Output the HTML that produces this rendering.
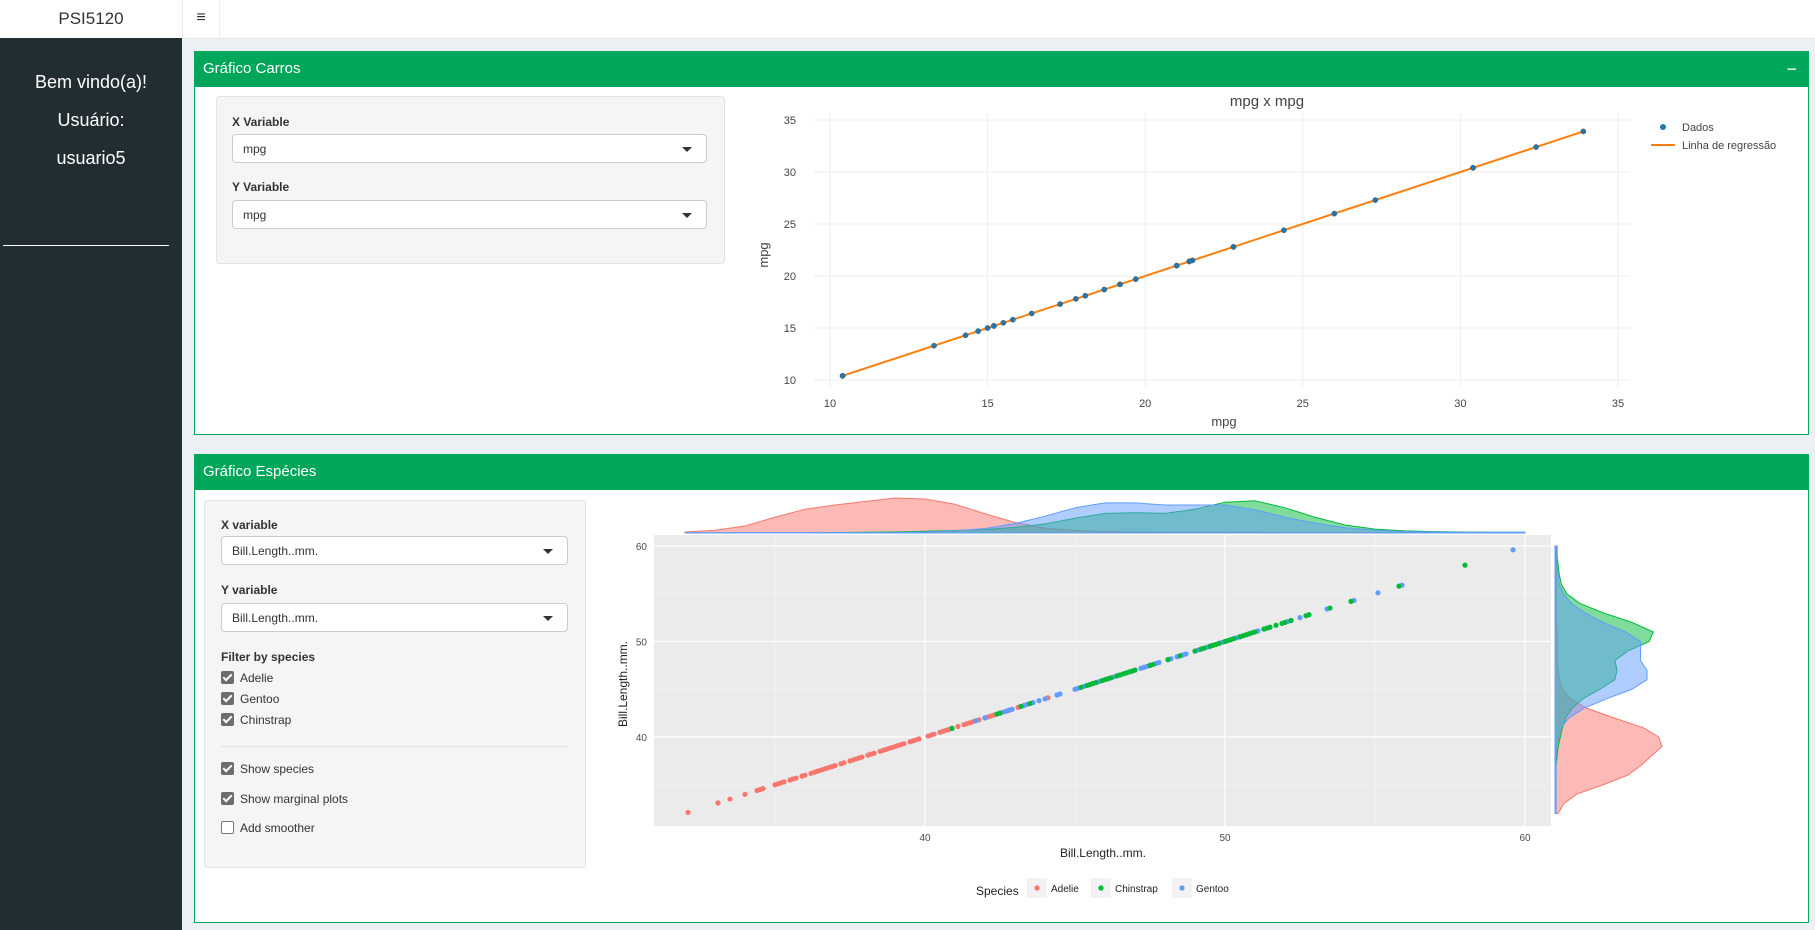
<!DOCTYPE html>
<html><head><meta charset="utf-8"><style>
body{margin:0;width:1815px;height:930px;overflow:hidden;background:#ecf0f5;font-family:"Liberation Sans",sans-serif;position:relative}
.abs{position:absolute}
.lbl{font-size:12px;font-weight:bold;color:#333}
.sel{background:#fff;border:1px solid #ccc;border-radius:4px;font-size:12px;color:#333;box-sizing:border-box;padding:7px 10px}
.sel:after{content:"";position:absolute;right:14px;top:12px;border:5px solid transparent;border-top:5px solid #333;border-bottom:0}
.cb{font-size:12px;color:#333}
.cb i{display:inline-block;width:11px;height:11px;border:1px solid #777;border-radius:2px;background:#fff;vertical-align:-2px;margin-right:6px;position:relative;font-style:normal}
.cb i.on{background:#6d6d6d;border-color:#6d6d6d}
.cb i.on:after{content:"";position:absolute;left:3px;top:0;width:3px;height:7px;border:solid #fff;border-width:0 2px 2px 0;transform:rotate(45deg)}
</style></head><body>
<div class="abs" style="left:0;top:0;width:1815px;height:38px;background:#fff;border-bottom:1px solid #e2e5ea"></div>
<div class="abs" style="left:0;top:0;width:182px;height:38px;line-height:38px;text-align:center;font-size:17px;color:#333">PSI5120</div>
<div class="abs" style="left:182px;top:0;width:36px;height:38px;line-height:36px;text-align:center;font-size:16px;color:#333;border-left:1px solid #eee;border-right:1px solid #eee">≡</div>
<div class="abs" style="left:0;top:38px;width:182px;height:892px;background:#222d32">
 <div class="abs" style="left:0;width:182px;top:34px;text-align:center;color:#fff;font-size:18px">Bem vindo(a)!</div>
 <div class="abs" style="left:0;width:182px;top:72px;text-align:center;color:#fff;font-size:18px">Usuário:</div>
 <div class="abs" style="left:0;width:182px;top:110px;text-align:center;color:#fff;font-size:18px">usuario5</div>
 <div class="abs" style="left:3px;top:207px;width:166px;height:1px;background:#fff"></div>
</div>

<div class="abs" style="left:194px;top:51px;width:1615px;height:384px;background:#fff;border:1px solid #00a65a;box-sizing:border-box">
 <div class="abs" style="left:-1px;top:-1px;width:1615px;height:36px;background:#00a65a;color:#fff;font-size:15px;line-height:36px;padding-left:9px;box-sizing:border-box">Gráfico Carros<span style="position:absolute;right:12px;top:0;font-size:18px">−</span></div>
 <div class="abs" style="left:21px;top:44px;width:507px;height:166px;background:#f5f5f5;border:1px solid #e3e3e3;border-radius:4px">
  <div class="abs lbl" style="left:15px;top:18px">X Variable</div>
  <div class="abs sel" style="left:15px;top:37px;width:475px;height:29px">mpg</div>
  <div class="abs lbl" style="left:15px;top:83px">Y Variable</div>
  <div class="abs sel" style="left:15px;top:103px;width:475px;height:29px">mpg</div>
 </div>
</div>
<svg class="abs" id="c1" style="left:0;top:0" width="1815" height="930"></svg>

<div class="abs" style="left:194px;top:454px;width:1615px;height:469px;background:#fff;border:1px solid #00a65a;box-sizing:border-box">
 <div class="abs" style="left:-1px;top:-1px;width:1615px;height:36px;background:#00a65a;color:#fff;font-size:15px;line-height:36px;padding-left:9px;box-sizing:border-box">Gráfico Espécies</div>
 <div class="abs" style="left:9px;top:45px;width:380px;height:366px;background:#f5f5f5;border:1px solid #e3e3e3;border-radius:4px">
  <div class="abs lbl" style="left:16px;top:17px">X variable</div>
  <div class="abs sel" style="left:16px;top:35px;width:347px;height:29px">Bill.Length..mm.</div>
  <div class="abs lbl" style="left:16px;top:82px">Y variable</div>
  <div class="abs sel" style="left:16px;top:102px;width:347px;height:29px">Bill.Length..mm.</div>
  <div class="abs lbl" style="left:16px;top:149px">Filter by species</div>
  <div class="abs cb" style="left:16px;top:170px"><i class="on"></i>Adelie</div>
  <div class="abs cb" style="left:16px;top:191px"><i class="on"></i>Gentoo</div>
  <div class="abs cb" style="left:16px;top:212px"><i class="on"></i>Chinstrap</div>
  <div class="abs" style="left:16px;top:245px;width:347px;height:1px;background:#e3e3e3"></div>
  <div class="abs cb" style="left:16px;top:261px"><i class="on"></i>Show species</div>
  <div class="abs cb" style="left:16px;top:291px"><i class="on"></i>Show marginal plots</div>
  <div class="abs cb" style="left:16px;top:320px"><i></i>Add smoother</div>
 </div>
</div>
<svg class="abs" id="c2" style="left:0;top:0" width="1815" height="930"></svg>

<script>
const NS="http://www.w3.org/2000/svg";
function mk(p,t,a){const e=document.createElementNS(NS,t);for(const k in a)e.setAttribute(k,a[k]);p.appendChild(e);return e;}
// ---- chart 1 data ----
const mpgTicks=[10,15,20,25,30,35];
const mpgValues=[21,21,22.8,21.4,18.7,18.1,14.3,24.4,22.8,19.2,17.8,16.4,17.3,15.2,10.4,10.4,14.7,32.4,30.4,33.9,21.5,15.5,15.2,13.3,19.2,27.3,26,30.4,15.8,19.7,15,21.4];
const regLine=[10.4,33.9];
// ---- chart 2 data ----
const bTicks=[40,50,60];
const bMinor=[35,45,55];
const adelie=[32.1,33.1,33.5,34,34.4,34.5,34.6,35,35.1,35.2,35.3,35.5,35.6,35.7,35.9,36,36.2,36.3,36.4,36.5,36.6,36.7,36.8,36.9,37,37.2,37.3,37.5,37.6,37.7,37.8,37.9,38.1,38.2,38.3,38.5,38.6,38.7,38.8,38.9,39,39.1,39.2,39.3,39.5,39.6,39.7,39.8,40.1,40.2,40.3,40.5,40.6,40.7,40.8,40.9,41.1,41.3,41.4,41.5,41.6,41.8,42,42.1,42.2,42.3,42.5,42.7,42.8,42.9,43.1,43.2,44.1,45.6,46];
const gentoo=[40.9,41.7,42,42.6,42.7,42.8,42.9,43.2,43.3,43.4,43.5,43.6,43.8,44,44.4,44.5,45,45.1,45.2,45.3,45.4,45.5,45.7,45.8,46.1,46.2,46.3,46.4,46.5,46.8,46.9,47.2,47.3,47.4,47.5,47.7,47.8,48.1,48.2,48.4,48.5,48.6,48.7,49,49.1,49.2,49.4,49.5,49.6,49.8,49.9,50,50.1,50.2,50.4,50.5,50.7,50.8,51.1,51.3,51.5,52.1,52.2,52.5,53.4,54.3,55.1,55.9,59.6];
const chinstrap=[40.9,42.4,42.5,43.2,43.5,45.2,45.4,45.5,45.6,45.7,45.9,46,46.1,46.2,46.4,46.5,46.6,46.7,46.8,46.9,47,47.5,47.6,48.1,48.5,49,49.2,49.3,49.5,49.6,49.7,49.8,50,50.1,50.2,50.3,50.5,50.6,50.7,50.8,50.9,51,51.3,51.4,51.5,51.7,51.9,52,52.2,52.7,52.8,53.5,54.2,55.8,58];
const densGrid=[32,33,34,35,36,37,38,39,40,41,42,43,44,45,46,47,48,49,50,51,52,53,54,55,56,57,58,59,60];
const densAdelie=[0.03,0.08,0.2,0.45,0.68,0.8,0.9,1.0,0.97,0.82,0.55,0.3,0.14,0.07,0.04,0.03,0.02,0.02,0.02,0.02,0.01,0.01,0.01,0.01,0.01,0.01,0.01,0.01,0.01];
const densGentoo=[0.01,0.01,0.01,0.01,0.01,0.01,0.01,0.01,0.03,0.06,0.13,0.27,0.48,0.72,0.86,0.86,0.8,0.8,0.8,0.66,0.45,0.28,0.15,0.08,0.04,0.03,0.02,0.02,0.02];
const densChin=[0,0,0,0,0,0.01,0.02,0.03,0.05,0.07,0.1,0.16,0.26,0.42,0.56,0.58,0.56,0.68,0.88,0.92,0.72,0.45,0.23,0.11,0.06,0.04,0.03,0.02,0.02];
const species=["Adelie","Chinstrap","Gentoo"];
const colors={Adelie:"#F8766D",Chinstrap:"#00BA38",Gentoo:"#619CFF"};

// chart 1
const s1=document.getElementById('c1');
const X1=v=>830+(v-10)*31.52, Y1=v=>380-(v-10)*10.4;
let t=mk(s1,'text',{x:1267,y:106,'text-anchor':'middle','font-size':15,fill:'#444'});t.textContent='mpg x mpg';

mpgTicks.forEach(v=>{
 let g=mk(s1,'line',{x1:X1(v),x2:X1(v),y1:113,y2:388,stroke:'#eee'});
 
 g=mk(s1,'line',{x1:814,x2:1630,y1:Y1(v),y2:Y1(v),stroke:'#eee'});
 
 let a=mk(s1,'text',{x:X1(v),y:407,'text-anchor':'middle','font-size':11,fill:'#444'});a.textContent=v;
 
 a=mk(s1,'text',{x:796,y:Y1(v)+4,'text-anchor':'end','font-size':11,fill:'#444'});a.textContent=v;
 
});
t=mk(s1,'text',{x:1224,y:426,'text-anchor':'middle','font-size':13,fill:'#444'});t.textContent='mpg';

t=mk(s1,'text',{x:0,y:0,'text-anchor':'middle','font-size':13,fill:'#444',transform:'translate(768,255) rotate(-90)'});t.textContent='mpg';

let ln=mk(s1,'line',{x1:X1(regLine[0]),y1:Y1(regLine[0]),x2:X1(regLine[1]),y2:Y1(regLine[1]),stroke:'#ff7f0e','stroke-width':2});

mpgValues.forEach(v=>{const c=mk(s1,'circle',{cx:X1(v),cy:Y1(v),r:2.6,fill:'#1f77b4',stroke:'#555','stroke-width':0.5});
 });
let lg=mk(s1,'circle',{cx:1663,cy:127,r:3,fill:'#1f77b4'});

t=mk(s1,'text',{x:1682,y:131,'font-size':11,fill:'#444'});t.textContent='Dados';

lg=mk(s1,'line',{x1:1651,x2:1675,y1:145,y2:145,stroke:'#ff7f0e','stroke-width':2});

t=mk(s1,'text',{x:1682,y:149,'font-size':11,fill:'#444'});t.textContent='Linha de regressão';


// chart 2
const s2=document.getElementById('c2');
const X2=v=>925+(v-40)*30, Y2=v=>737-(v-40)*9.55;
let bg=mk(s2,'rect',{x:654,y:535,width:897,height:291,fill:'#ebebeb'});

bMinor.forEach(v=>{
 let g=mk(s2,'line',{x1:X2(v),x2:X2(v),y1:535,y2:826,stroke:'#f5f5f5','stroke-width':0.6});
 
 g=mk(s2,'line',{x1:654,x2:1551,y1:Y2(v),y2:Y2(v),stroke:'#f5f5f5','stroke-width':0.6});
 
});
bTicks.forEach(v=>{
 let g=mk(s2,'line',{x1:X2(v),x2:X2(v),y1:535,y2:826,stroke:'#fff','stroke-width':1.2});
 
 g=mk(s2,'line',{x1:654,x2:1551,y1:Y2(v),y2:Y2(v),stroke:'#fff','stroke-width':1.2});
 
 let a=mk(s2,'text',{x:X2(v),y:841,'text-anchor':'middle','font-size':10,fill:'#4d4d4d'});a.textContent=v;
 
 a=mk(s2,'text',{x:647,y:Y2(v)+4,'text-anchor':'end','font-size':10,fill:'#4d4d4d'});a.textContent=v;
 
});
t=mk(s2,'text',{x:1103,y:857,'text-anchor':'middle','font-size':12,fill:'#222'});t.textContent='Bill.Length..mm.';

t=mk(s2,'text',{x:0,y:0,'text-anchor':'middle','font-size':12,fill:'#222',transform:'translate(627,684) rotate(-90)'});t.textContent='Bill.Length..mm.';

[["Adelie",adelie],["Gentoo",gentoo],["Chinstrap",chinstrap]].forEach(([sp,arr])=>{
 arr.forEach(v=>{const c=mk(s2,'circle',{cx:X2(v),cy:Y2(v),r:2.6,fill:colors[sp]});
  });
});
// marginals
const dens={Adelie:densAdelie,Gentoo:densGentoo,Chinstrap:densChin};
const topBase=533, topH=35, rBase=1555, rW=107;
["Adelie","Chinstrap","Gentoo"].forEach(sp=>{
 const d=dens[sp];
 let p='M'+X2(densGrid[0])+','+topBase;
 densGrid.forEach((g,i)=>{p+=' L'+X2(g)+','+(topBase-d[i]*topH);});
 p+=' L'+X2(densGrid[densGrid.length-1])+','+topBase+' Z';
 let e=mk(s2,'path',{d:p,fill:colors[sp],'fill-opacity':0.5,stroke:colors[sp],'stroke-width':1,'stroke-linejoin':'round'});
 
 p='M'+rBase+','+Y2(densGrid[0]);
 densGrid.forEach((g,i)=>{p+=' L'+(rBase+d[i]*rW)+','+Y2(g);});
 p+=' L'+rBase+','+Y2(densGrid[densGrid.length-1])+' Z';
 e=mk(s2,'path',{d:p,fill:colors[sp],'fill-opacity':0.5,stroke:colors[sp],'stroke-width':1,'stroke-linejoin':'round'});
 
});
// legend
t=mk(s2,'text',{x:976,y:895,'font-size':12,fill:'#222'});t.textContent='Species';

const legX=[1027,1091,1172];
species.forEach((sp,i)=>{
 let r=mk(s2,'rect',{x:legX[i],y:878,width:20,height:20,fill:'#f2f2f2'});
 
 let c=mk(s2,'circle',{cx:legX[i]+10,cy:888,r:2.6,fill:colors[sp]});
 
 let a=mk(s2,'text',{x:legX[i]+24,y:892,'font-size':10,fill:'#222'});a.textContent=sp;
 
});
</script>
</body></html>
